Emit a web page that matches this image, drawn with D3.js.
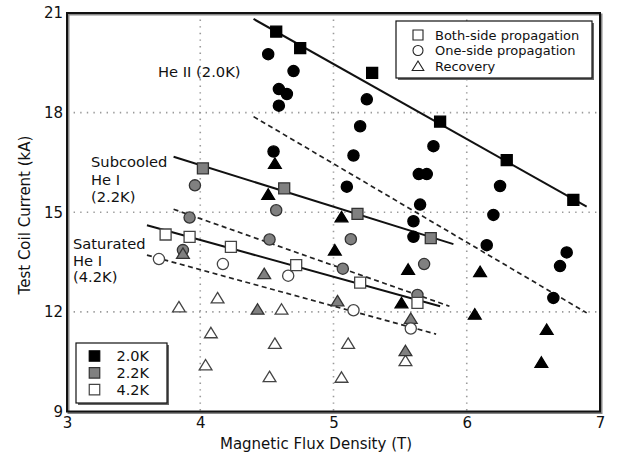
<!DOCTYPE html>
<html>
<head>
<meta charset="utf-8">
<script src="https://cdn.jsdelivr.net/npm/d3@7"></script>
<style>
  body { margin: 0; background: #fff; }
  svg { font-family: "DejaVu Sans", Verdana, sans-serif; }
</style>
</head>
<body>
<svg width="618" height="462"></svg>
<script>
// quench current vs field, 3 bath temps

var xTicks = [3, 4, 5, 6, 7];
var yTicks = [9, 12, 15, 18, 21];
var xGrid = [4, 5, 6];
var yGrid = [12, 15, 18];

// 2.0K (He II)
var sq20 = [[4.57, 20.44], [4.75, 19.94], [5.29, 19.20], [5.80, 17.73], [6.30, 16.57], [6.80, 15.37]];
var ci20 = [[4.51, 19.76], [4.70, 19.25], [4.59, 18.71], [4.65, 18.56], [4.59, 18.21], [4.55, 16.83],
            [5.25, 18.40], [5.20, 17.59], [5.15, 16.71], [5.10, 15.77],
            [5.75, 16.99], [5.64, 16.15], [5.70, 16.15], [5.65, 15.23], [5.60, 14.73], [5.60, 14.26],
            [6.25, 15.79], [6.20, 14.92], [6.15, 14.01],
            [6.75, 13.79], [6.70, 13.38], [6.65, 12.42]];
var tr20 = [[4.56, 16.47], [4.51, 15.54], [5.06, 14.86], [5.01, 13.86], [5.56, 13.28], [5.51, 12.27],
            [6.10, 13.21], [6.06, 11.93], [6.60, 11.47], [6.56, 10.48]];
var fit20 = [[4.40, 20.82], [6.90, 15.17]];
var low20 = [[4.40, 17.88], [6.90, 11.97]];

// 2.2K (subcooled He I)
var sq22 = [[4.02, 16.32], [4.63, 15.72], [5.18, 14.95], [5.73, 14.22]];
var ci22 = [[3.96, 15.81], [4.57, 15.06], [3.92, 14.84], [4.52, 14.18], [5.13, 14.19],
            [5.07, 13.30], [5.68, 13.44], [5.63, 12.51], [3.87, 13.86]];
var tr22 = [[3.87, 13.76], [4.48, 13.15], [4.43, 12.08], [5.03, 12.33], [5.58, 11.80], [5.54, 10.83]];
var fit22 = [[3.80, 16.67], [5.90, 14.04]];
var low22 = [[3.80, 15.09], [5.87, 12.17]];

// 4.2K (saturated He I)
var sq42 = [[3.74, 14.33], [3.92, 14.26], [4.23, 13.96], [4.72, 13.41], [5.20, 12.88], [5.63, 12.27]];
var ci42 = [[3.69, 13.59], [4.17, 13.44], [4.66, 13.09], [5.15, 12.05], [5.58, 11.50]];
var tr42 = [[3.84, 12.15], [4.13, 12.42], [4.08, 11.37], [4.04, 10.40], [4.61, 12.08], [4.56, 11.05],
            [4.52, 10.05], [5.11, 11.05], [5.06, 10.03], [5.54, 10.53]];
var fit42 = [[3.60, 14.61], [5.80, 12.17]];
var low42 = [[3.60, 13.71], [5.77, 11.33]];

var temps = ["2.0K", "2.2K", "4.2K"];
var shapes = ["Both-side propagation", "One-side propagation", "Recovery"];

var fills = {"2.0K": "#000", "2.2K": "#808080", "4.2K": "#fff"};
var strokes = {"2.0K": "#000", "2.2K": "#333", "4.2K": "#444"};

var pLeft = 67, pRight = 600, pTop = 13, pBottom = 411.5;

var x = d3.scaleLinear().domain([3, 7]).range([pLeft, pRight]);
var y = d3.scaleLinear().domain([9, 21]).range([pBottom, pTop]);

var svg = d3.select("svg");
svg.append("rect").attr("width", 618).attr("height", 462).attr("fill", "#fff");

// grid
var grid = svg.append("g").attr("stroke", "#9a9a9a").attr("stroke-width", 1.6)
  .attr("stroke-dasharray", "1.4,5.2").attr("stroke-linecap", "butt");
grid.selectAll(".gx").data(xGrid).enter().append("line")
  .attr("x1", function(d){ return x(d) }).attr("x2", function(d){ return x(d) })
  .attr("y1", pTop).attr("y2", pBottom);
grid.selectAll(".gy").data(yGrid).enter().append("line")
  .attr("y1", function(d){ return y(d) }).attr("y2", function(d){ return y(d) })
  .attr("x1", pLeft).attr("x2", pRight);

// fit lines
var line = d3.line().x(function(d){ return x(d[0]) }).y(function(d){ return y(d[1]) });
[fit20, fit22, fit42].forEach(function(f){
  svg.append("path").attr("d", line(f)).attr("fill", "none")
    .attr("stroke", "#111").attr("stroke-width", 2);
});
[low20, low22, low42].forEach(function(f){
  svg.append("path").attr("d", line(f)).attr("fill", "none")
    .attr("stroke", "#222").attr("stroke-width", 1.7).attr("stroke-dasharray", "5,3.5");
});

// marker shapes
function sqPath(s){ var h = s / 2; return "M" + -h + "," + -h + "H" + h + "V" + h + "H" + -h + "Z" }
function ciPath(r){ return "M" + -r + ",0A" + r + "," + r + " 0 1,0 " + r + ",0A" + r + "," + r + " 0 1,0 " + -r + ",0Z" }
function trPath(s){ return "M0," + (-s * 0.5) + "L" + (s * 0.58) + "," + (s * 0.45) + "L" + (-s * 0.58) + "," + (s * 0.45) + "Z" }
var shapePath = [sqPath(11), ciPath(5.6), trPath(11)];

function drawMarks(data, temp, shape){
  svg.append("g").selectAll("path").data(data).enter().append("path")
    .attr("d", shapePath[shape])
    .attr("transform", function(d){ return translate(x(d[0]), y(d[1])) })
    .attr("fill", fills[temp])
    .attr("stroke", strokes[temp])
    .attr("stroke-width", 1.3);
}

drawMarks(tr42, "4.2K", 2);
drawMarks(ci22, "2.2K", 1);
drawMarks(tr22, "2.2K", 2);
drawMarks(tr20, "2.0K", 2);
drawMarks(ci42, "4.2K", 1);
drawMarks(ci20, "2.0K", 1);
drawMarks(sq42, "4.2K", 0);
drawMarks(sq22, "2.2K", 0);
drawMarks(sq20, "2.0K", 0);

// frame with a little shadow
svg.append("rect").attr("x", pLeft + 1.5).attr("y", pTop + 1.5)
  .attr("width", pRight - pLeft).attr("height", pBottom - pTop)
  .attr("fill", "none").attr("stroke", "#888").attr("stroke-width", 2);
svg.append("rect").attr("x", pLeft).attr("y", pTop)
  .attr("width", pRight - pLeft).attr("height", pBottom - pTop)
  .attr("fill", "none").attr("stroke", "#111").attr("stroke-width", 2);

// axes
var xAxis = svg.append("g").attr("transform", translate(0, pBottom))
  .call(d3.axisBottom(x).tickValues(xTicks).tickSize(0).tickPadding(6).tickFormat(d3.format("d")));
var yAxis = svg.append("g").attr("transform", translate(pLeft, 0))
  .call(d3.axisLeft(y).tickValues(yTicks).tickSize(0).tickPadding(4).tickFormat(d3.format("d")));
[xAxis, yAxis].forEach(function(a){
  a.select(".domain").remove();
  a.selectAll("text").attr("font-size", 15).attr("font-family", "DejaVu Sans").attr("fill", "#111");
});

svg.append("text").text("Magnetic Flux Density (T)")
  .attr("x", 316).attr("y", 449).attr("text-anchor", "middle")
  .attr("font-size", 15).attr("fill", "#111");
svg.append("text").text("Test Coil Current (kA)")
  .attr("transform", translate(30, 215) + " rotate(-90)").attr("text-anchor", "middle")
  .attr("font-size", 15).attr("fill", "#111");

// annotations
function label(lines, lx, ly, lh){
  var t = svg.append("text").attr("font-size", 14.7).attr("fill", "#111");
  lines.forEach(function(s, i){
    t.append("tspan").attr("x", lx).attr("y", ly + i * lh).text(s);
  });
}
label(["He II (2.0K)"], 158, 77, 0);
label(["Subcooled", "He I", "(2.2K)"], 91, 167, 17.5);
label(["Saturated", "He I", "(4.2K)"], 73, 249, 16.5);

// legend: mechanism
var lg = svg.append("g").attr("transform", translate(396, 21));
lg.append("rect").attr("x", 2).attr("y", 2).attr("width", 196).attr("height", 57).attr("fill", "#666");
lg.append("rect").attr("width", 196).attr("height", 57).attr("fill", "#fff")
  .attr("stroke", "#111").attr("stroke-width", 1.2);
var le = lg.selectAll(".le").data(shapes).enter().append("g")
  .attr("transform", function(d, i){ return translate(22, 14 + i * 15.5) });
le.append("path").attr("d", function(d, i){ return [sqPath(10), ciPath(5), trPath(10)][i] })
  .attr("fill", "#fff").attr("stroke", "#222").attr("stroke-width", 1.1);
le.append("text").text(function(d){ return d }).attr("x", 17).attr("dy", "0.35em")
  .attr("font-size", 13).attr("fill", "#111");

// legend: temperature
var lt = svg.append("g").attr("transform", translate(76, 343));
lt.append("rect").attr("x", 2).attr("y", 2).attr("width", 91).attr("height", 60).attr("fill", "#666");
lt.append("rect").attr("width", 91).attr("height", 60).attr("fill", "#fff")
  .attr("stroke", "#111").attr("stroke-width", 1.2);
var te = lt.selectAll(".te").data(temps).enter().append("g")
  .attr("transform", function(d, i){ return translate(18.5, 13 + i * 16.8) });
te.append("path").attr("d", sqPath(10.5))
  .attr("fill", function(d){ return fills[d] }).attr("stroke", function(d){ return strokes[d] })
  .attr("stroke-width", 1.2);
te.append("text").text(function(d){ return d }).attr("x", 22).attr("dy", "0.36em")
  .attr("font-size", 14.5).attr("fill", "#111");

// ----------- helpers ----------------
function translate(vx, vy){
  return "translate(" + [vx, vy] + ")"
}
</script>
</body>
</html>
